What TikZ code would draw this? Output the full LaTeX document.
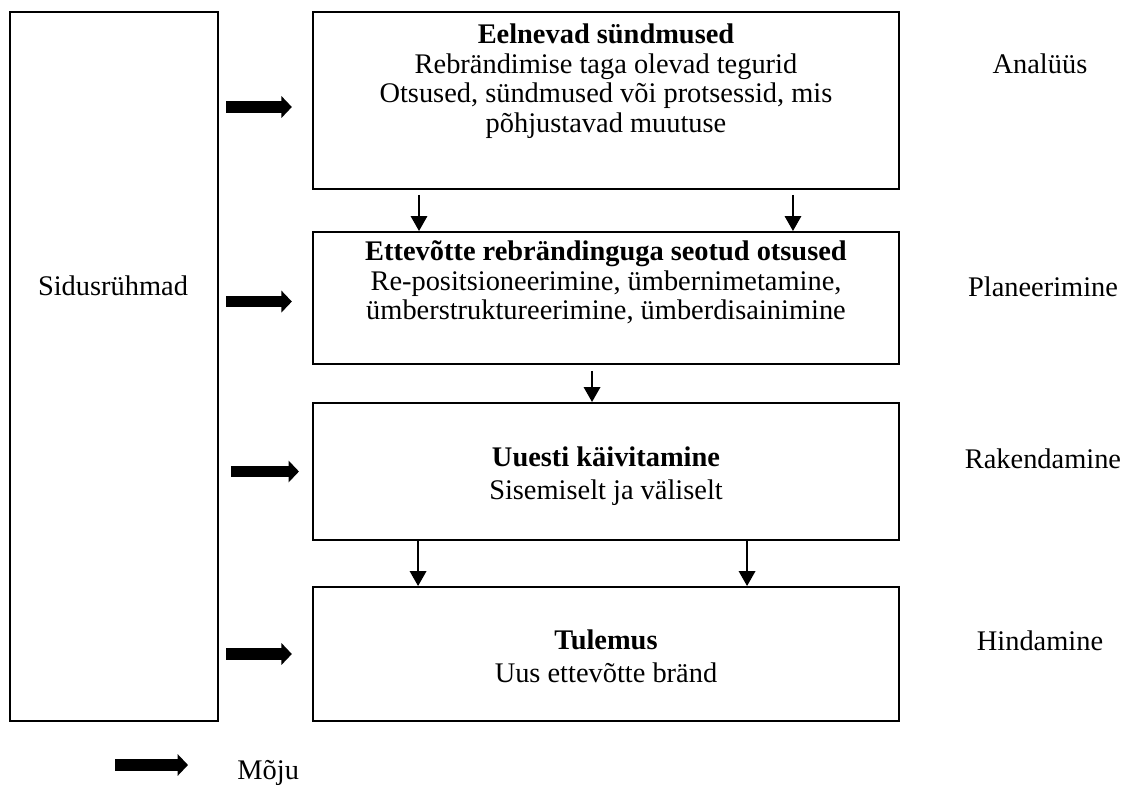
\documentclass[tikz,border=0pt]{standalone}
\usepackage{fontspec}
\setmainfont{Liberation Serif}
\usetikzlibrary{arrows.meta,positioning}
\tikzstyle{stage}=[draw, line width=0.85pt, minimum width=247.6pt, inner sep=0pt]
\tikzstyle{txt}=[align=center, inner sep=0pt, font=\fontsize{12}{13.8}\selectfont]
\tikzstyle{tighttxt}=[txt, font=\fontsize{12}{12.5}\selectfont]
\tikzstyle{infl}=[line width=5pt, -{Triangle[length=4.4pt,width=9pt]}]
\tikzstyle{flow}=[line width=0.6pt, -{Triangle[length=6.3pt,width=7pt]}]
\begin{document}
\begin{tikzpicture}[x=0.4225pt, y=-0.4225pt]
            \useasboundingbox (0,0) rectangle (1123,789);
            % stakeholders
            \node[stage, minimum width=87.9pt, minimum height=299.6pt] (sid) at (114,366.5) {};
            \node[txt, anchor=base] (sidlbl) at (113,295) {Sidusrühmad};
            % stages
            \node[stage, minimum height=74.8pt] (eel) at (606,100.5) {};
            \node[stage, minimum height=55.8pt] (otsus) at (606,298) {};
            \node[stage, minimum height=57.9pt] (uues) at (606,471.5) {};
            \node[stage, minimum height=56.6pt] (tul) at (606,654) {};
            \node[tighttxt, below=5.2pt of eel.north] (eeltxt) {\textbf{Eelnevad sündmused}\\Rebrändimise taga olevad tegurid\\Otsused, sündmused või protsessid, mis\\põhjustavad muutuse};
            \node[tighttxt, below=4pt of otsus.north] (otsustxt) {\textbf{Ettevõtte rebrändinguga seotud otsused}\\Re-positsioneerimine, ümbernimetamine,\\ümberstruktureerimine, ümberdisainimine};
            \node[txt, below=18.8pt of uues.north] (uuestxt) {\textbf{Uuesti käivitamine}\\Sisemiselt ja väliselt};
            \node[txt, below=18.3pt of tul.north] (tultxt) {\textbf{Tulemus}\\Uus ettevõtte bränd};
            % phases
            \node[txt, anchor=base] (ana) at (1040,73) {Analüüs};
            \node[txt, anchor=base] (plan) at (1043,296) {Planeerimine};
            \node[txt, anchor=base] (rak) at (1043,468) {Rakendamine};
            \node[txt, anchor=base] (hind) at (1040,650) {Hindamine};
            % influence
            \draw[infl, shorten <=3pt, shorten >=8.5pt] ([yshift=-2.75pt]sid.east |- eel.west) -- ([yshift=-2.75pt]eel.west);
            \draw[infl, shorten <=3pt, shorten >=8.5pt] ([yshift=-1.5pt]sid.east |- otsus.west) -- ([yshift=-1.5pt]otsus.west);
            \draw[infl, shorten <=5pt, shorten >=5.5pt] (sid.east |- uues.west) -- (uues.west);
            \draw[infl, shorten <=3pt, shorten >=8.5pt] (sid.east |- tul.west) -- (tul.west);
            % flow between stages
            \draw[flow, shorten <=2pt] ([xshift=-79pt]eel.south) -- ([xshift=-79pt]otsus.north);
            \draw[flow, shorten <=2pt] ([xshift=79pt]eel.south) -- ([xshift=79pt]otsus.north);
            \draw[flow, shorten <=2.5pt] ([xshift=-5.9pt]otsus.south) -- ([xshift=-5.9pt]uues.north);
            \draw[flow] ([xshift=-79.4pt]uues.south) -- ([xshift=-79.4pt]tul.north);
            \draw[flow] ([xshift=59.6pt]uues.south) -- ([xshift=59.6pt]tul.north);
            % legend
            \coordinate (legend) at (115,765);
            \node[txt, anchor=base west] (moju) at (237,779) {Mõju};
            \draw[infl, shorten >=20.7pt] (legend) -- (moju.west |- legend);
        \end{tikzpicture}
\end{document}
